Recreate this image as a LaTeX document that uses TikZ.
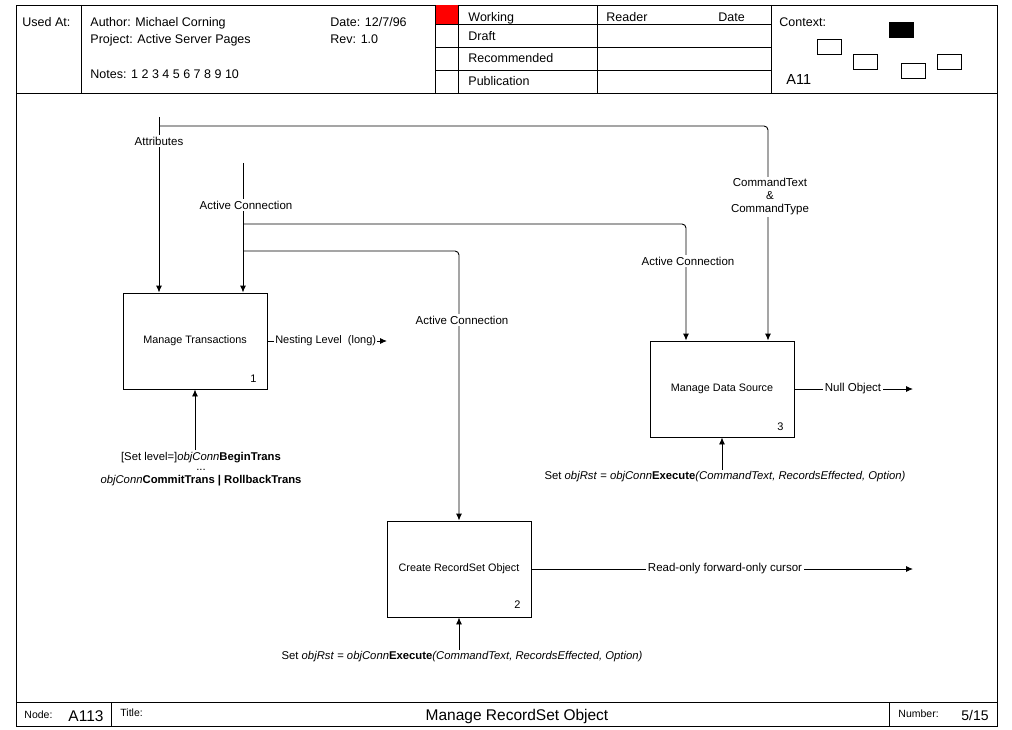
\documentclass[tikz,border=0pt]{standalone}
\usepackage{fontspec}
\setmainfont{Liberation Sans}
\usetikzlibrary{arrows.meta,calc}
\begin{document}
\begin{tikzpicture}[x=1pt,y=-1pt,line width=0.9pt,
  box/.style={draw,minimum width=144pt,minimum height=96pt,inner sep=0pt,font=\fontsize{10.8}{12}\selectfont},
  lbl/.style={fill=white,inner sep=1.5pt,font=\fontsize{11.5}{13}\selectfont},
  mech/.style={fill=white,inner sep=1pt,align=center,anchor=north,font=\fontsize{11.3}{12.8}\selectfont},
  arr/.style={-{Latex[length=7pt,width=6pt]}},
  hdr/.style={anchor=base west,inner sep=0pt,font=\fontsize{12.5}{14}\selectfont},
  small/.style={anchor=base west,inner sep=0pt,font=\fontsize{10.5}{12}\selectfont},
  big/.style={inner sep=0pt,font=\fontsize{15.5}{17}\selectfont},
  num/.style={inner sep=0pt,font=\fontsize{11}{12}\selectfont},
  ctx/.style={draw,line width=0.9pt,minimum width=24pt,minimum height=15pt,inner sep=0pt}]
\useasboundingbox (0,0) rectangle (1012,730);
\fill[white] (0,0) rectangle (1012,730);
% frame
\draw (16,5) rectangle (997,726);
\draw (16,93) -- (997,93);
\draw (81,5) -- (81,93);
\fill[red] (435,5) rectangle (458,24);
\draw (435,5) -- (435,93);
\draw (458,5) -- (458,93);
\draw (597,5) -- (597,93);
\draw (771,5) -- (771,93);
\draw (435,24) -- (771,24);
\draw (435,47) -- (771,47);
\draw (435,70) -- (771,70);
\draw (16,702) -- (997,702);
\draw (111,702) -- (111,726);
\draw (889,702) -- (889,726);
% header texts
\node[hdr] (usedat) at (22,27) {Used At:};
\node[hdr] (author) at (90,27) {Author: Michael Corning};
\node[hdr] (project) at (90,44) {Project: Active Server Pages};
\node[hdr] (notes) at (90,79) {Notes: 1 2 3 4 5 6 7 8 9 10};
\node[hdr] (date) at (330,27) {Date: 12/7/96};
\node[hdr] (rev) at (330,44) {Rev: 1.0};
\node[hdr] (working) at (468,22) {Working};
\node[hdr] (draft) at (468,41) {Draft};
\node[hdr] (recom) at (468,63) {Recommended};
\node[hdr] (publ) at (468,86) {Publication};
\node[hdr] (reader) at (606,22) {Reader};
\node[hdr] (rdate) at (718,22) {Date};
\node[hdr] (context) at (779,27) {Context:};
\node[anchor=base west,inner sep=0pt,font=\fontsize{14.5}{16}\selectfont] (a11) at (786,85) {A11};
\node[ctx,fill=black] (c0) at (901,30) {};
\node[ctx] (c1) at (829,46.5) {};
\node[ctx] (c2) at (865,61.5) {};
\node[ctx] (c3) at (913,70.5) {};
\node[ctx] (c4) at (949,61.5) {};
% footer texts
\node[small] (nodel) at (24,718) {Node:};
\node[big,anchor=base west] (nodev) at (68,721) {A113};
\node[small] (titlel) at (120,716) {Title:};
\node[big,anchor=base] (titlev) at (517,720) {Manage RecordSet Object};
\node[small] (numl) at (898,717) {Number:};
\node[big,anchor=base west,font=\fontsize{14}{16}\selectfont] (numv) at (961,720) {5/15};
% boxes
\node[box] (b1) at (195,341) {Manage Transactions};
\node[box] (b3) at (722,389) {Manage Data Source};
\node[box] (b2) at (459,569) {Create RecordSet Object};
\node[num] (n1) at ($(b1.south east)+(-14,-11)$) {1};
\node[num] (n3) at ($(b3.south east)+(-14,-11)$) {3};
\node[num] (n2) at ($(b2.south east)+(-14,-13)$) {2};
% attributes
\coordinate (attrS) at (159,117);
\coordinate (attrJ) at (159,126);
\coordinate (attrT) at (768,126);
\draw[arr] (attrS) -- (attrS |- b1.north);
\draw[arr,rounded corners=4pt] (attrJ) -- (attrT) -- (attrT |- b3.north);
\node[lbl] (lattr) at (159,141) {Attributes};
\node[lbl,align=center] (lcmd) at (770,197) {CommandText\\\&\\CommandType};
% active connection
\coordinate (acS) at (243,163);
\coordinate (acJ1) at (243,224);
\coordinate (acT1) at (686,224);
\coordinate (acJ2) at (243,251);
\coordinate (acT2) at (459,251);
\draw[arr] (acS) -- (acS |- b1.north);
\draw[arr,rounded corners=4pt] (acJ1) -- (acT1) -- (acT1 |- b3.north);
\draw[arr,rounded corners=4pt] (acJ2) -- (acT2) -- (b2.north);
\node[lbl] (lac1) at (246,205) {Active Connection};
\node[lbl] (lac3) at (688,261) {Active Connection};
\node[lbl] (lac2) at (462,320) {Active Connection};
% outputs
\coordinate (o1) at (387,341);
\coordinate (o3) at (913,389);
\coordinate (o2) at (913,569);
\node[lbl,inner sep=0.8pt,anchor=west,font=\fontsize{11}{13}\selectfont] (lnest) at (274,341) {Nesting Level\ \ (long)};
\draw (b1.east) -- (lnest.west);
\draw[arr] (lnest.east) -- (o1);
\draw[arr] (b3.east) -- (o3);
\draw[arr] (b2.east) -- (o2);
\node[lbl] (lnull) at (853,389) {Null Object};
\node[lbl] (lread) at (725,569) {Read-only forward-only cursor};
% mechanisms
\coordinate (m1) at (195,450);
\coordinate (m3) at (722,470);
\coordinate (m2) at (459,650);
\draw[arr] (m1) -- (b1.south);
\draw[arr] (m3) -- (b3.south);
\draw[arr] (m2) -- (b2.south);
\node[mech] (lm1) at (201,451) {[Set level=]\textit{objConn}\textbf{BeginTrans}\\[-3pt]...\\\textit{objConn}\textbf{CommitTrans | RollbackTrans}};
\node[mech] (lm3) at (725,470) {Set \textit{objRst} = \textit{objConn}\textbf{Execute}\textit{(CommandText, RecordsEffected, Option)}};
\node[mech] (lm2) at (462,650) {Set \textit{objRst} = \textit{objConn}\textbf{Execute}\textit{(CommandText, RecordsEffected, Option)}};
\end{tikzpicture}
\end{document}
